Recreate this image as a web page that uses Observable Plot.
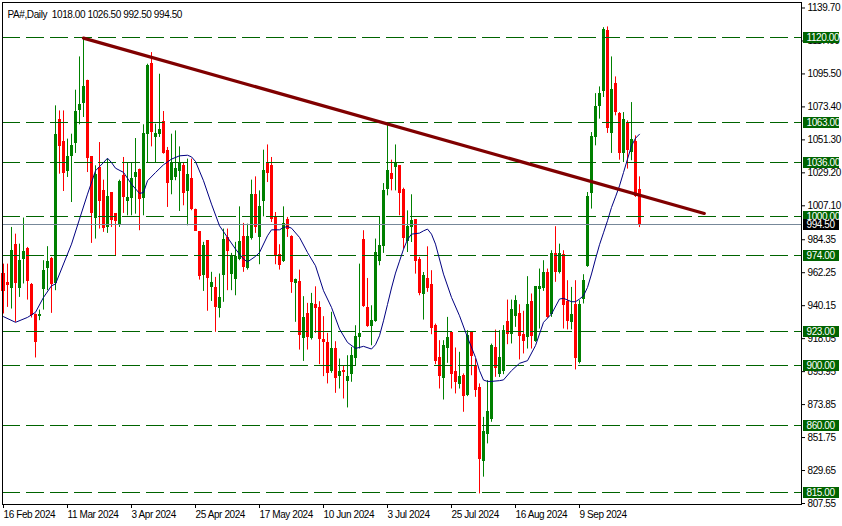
<!DOCTYPE html>
<html><head><meta charset="utf-8">
<script src="https://cdn.jsdelivr.net/npm/d3@7"></script>
<script src="https://cdn.jsdelivr.net/npm/@observablehq/plot@0.6"></script>
<style>
html,body{margin:0;padding:0;background:#fff;}
#chart{width:842px;height:526px;overflow:hidden;}
svg{display:block;}
</style></head><body><div id="chart"></div>
<script>
const title = "PA#,Daily\u00a0 1018.00 1026.50 992.50 994.50";
const open = [961.4,955.5,952.0,981.0,952.0,971.6,978.1,954.2,934.1,933.5,951.1,965.1,971.4,955.1,1064.7,1050.0,1030.1,1040.8,1049.5,1071.4,
1076.3,1090.8,1039.9,998.9,1032.3,1017.2,993.0,1015.8,1001.8,994.8,1026.8,1010.0,1012.0,1026.1,1031.2,1012.2,1055.1,1102.4,1053.5,1055.5,
1063.4,1043.9,1024.3,1026.5,1030.1,1033.9,1016.7,1025.4,1004.4,989.3,960.9,983.7,952.4,952.0,938.6,960.9,985.5,961.4,958.0,971.4,
985.9,965.3,985.4,1014.2,986.3,1010.4,1035.7,1033.9,999.7,974.3,969.8,997.7,986.3,955.1,956.2,918.2,934.5,918.5,940.8,938.6,
917.1,915.1,896.6,911.1,893.2,896.6,889.5,894.4,905.0,918.9,984.3,938.8,926.3,930.1,969.8,980.3,1018.2,1028.7,1033.4,1033.9,
1017.6,983.2,992.6,997.5,970.7,947.9,958.0,954.2,926.7,905.1,891.7,911.5,922.0,895.5,887.7,893.2,880.5,922.7,899.9,884.8,
836.3,854.2,864.2,911.8,894.4,896.2,929.0,921.2,933.5,934.6,920.7,919.0,942.8,916.7,951.1,952.0,962.3,934.6,974.8,962.5,
974.1,942.8,929.0,940.6,902.2,944.6,966.9,1016.0,1053.5,1074.1,1084.1,1124.3,1056.2,1089.0,1068.9,1042.8,1062.9,1043.3,1050.2,1018.0];
const high = [968.0,968.0,992.6,988.1,981.4,998.9,979.2,955.0,934.6,937.2,970.3,979.7,972.5,1074.1,1070.7,1070.7,1051.8,1055.1,1084.6,1106.9,
1119.5,1091.3,1039.9,1033.9,1049.5,1024.3,1038.4,1015.8,1001.8,1024.3,1039.5,1035.5,1035.5,1052.2,1031.7,1061.4,1102.0,1109.8,1061.8,1095.3,
1070.3,1046.2,1055.1,1057.3,1046.6,1036.1,1038.4,1038.4,1004.9,989.3,982.6,983.7,962.5,959.1,961.4,991.5,991.5,975.2,982.6,1006.4,
995.3,994.8,1024.3,1026.5,1017.1,1044.4,1047.9,1039.5,1002.6,981.0,1006.4,999.3,987.0,958.0,964.0,946.2,941.7,948.4,952.8,942.8,
932.8,921.6,935.7,916.0,904.4,899.9,906.6,912.2,926.7,968.0,990.4,958.4,940.1,984.8,999.3,1022.0,1062.0,1037.7,1047.9,1033.9,
1018.9,1003.7,1014.5,997.5,972.5,962.4,979.6,963.6,927.8,916.7,916.7,932.3,922.0,911.8,908.9,894.4,923.4,922.7,904.4,887.7,
865.3,889.9,914.4,923.8,923.4,926.8,943.9,943.9,946.8,940.8,936.4,959.6,948.0,952.4,964.7,970.3,964.7,977.0,993.1,981.4,
977.0,956.9,952.4,956.9,943.5,960.9,1016.0,1056.2,1082.3,1086.8,1126.5,1127.0,1106.9,1093.5,1069.6,1069.6,1064.0,1076.3,1054.0,1026.5];
const low = [934.6,939.0,937.9,929.0,945.7,954.7,943.9,931.9,905.1,930.1,937.2,950.2,935.0,950.2,1028.3,1016.7,1026.1,1009.3,1042.2,1061.4,
1066.3,1029.4,981.9,984.8,991.5,989.3,988.6,992.6,973.6,992.6,1002.0,1000.4,1000.4,1001.5,990.4,1000.4,1036.1,1046.6,1035.5,1052.9,
1041.7,1006.0,1014.5,1023.9,1003.3,1007.1,993.7,1003.8,990.0,957.3,949.7,936.4,943.0,922.3,931.9,942.4,950.2,950.2,946.8,970.3,
962.5,964.0,984.1,988.6,967.6,999.7,1022.7,995.9,967.6,964.0,969.1,985.9,948.4,929.0,910.4,902.8,910.4,917.1,921.6,900.6,
892.6,887.7,894.8,881.4,884.3,877.6,871.6,888.8,900.0,911.1,939.0,925.6,913.3,929.0,966.9,975.2,1013.8,1017.1,1017.1,1000.4,
978.1,975.8,982.5,961.3,946.8,930.5,949.1,920.7,900.6,884.3,876.9,901.5,884.3,881.0,884.3,868.7,879.2,893.2,878.7,814.0,
825.2,847.5,862.0,892.1,892.0,893.9,914.0,914.5,925.6,903.8,907.8,911.1,911.1,915.6,924.5,949.7,931.7,932.3,955.8,961.4,
924.5,923.9,923.9,897.1,901.1,941.3,965.8,1004.9,1047.3,1065.2,1079.7,1055.6,1042.2,1067.4,1037.7,1036.1,1031.7,1037.3,1012.7,992.5];
const close = [949.7,954.2,977.0,955.1,969.8,975.9,956.4,934.1,915.6,934.1,963.1,969.6,954.7,1054.7,1047.3,1029.4,1039.5,1047.3,1070.3,1074.7,
1086.8,1039.0,1002.0,1027.9,1010.5,992.2,1012.7,997.5,997.1,1023.2,1013.1,1012.0,1025.4,1028.8,1011.6,1055.1,1100.9,1056.9,1055.3,1057.6,
1042.8,1022.1,1035.5,1032.1,1035.5,1015.6,1027.9,1004.9,990.4,959.8,980.3,958.7,955.1,939.0,945.3,984.1,977.0,973.0,973.0,982.6,
965.8,986.3,1014.5,993.0,1006.6,1030.5,1029.4,998.2,974.3,967.6,994.8,991.5,955.7,957.3,920.7,931.9,919.4,941.2,938.6,917.8,
915.6,894.8,911.1,891.7,895.9,895.5,892.6,906.6,919.0,921.2,940.1,926.7,930.1,975.6,980.3,1017.1,1030.1,1024.9,1035.7,1016.0,
985.2,992.6,997.0,969.8,948.4,959.8,952.0,924.9,902.8,893.2,913.1,918.2,894.4,888.8,892.1,879.4,920.0,906.6,883.6,837.4,
855.3,868.7,913.3,898.2,904.9,923.4,921.2,937.5,943.5,920.1,916.7,940.8,920.1,952.4,952.4,961.8,932.3,974.8,962.5,974.8,
940.8,930.1,934.1,905.1,940.6,956.9,1012.7,1053.3,1073.4,1081.9,1125.0,1059.1,1084.8,1070.3,1042.2,1064.5,1044.4,1051.3,1013.8,994.5];

// moving average (bar index, value)
const maIndex = [0,3,6,8,10,12,13,15,17,19,21,23,25,26,27,28,30,32,34,35,36,38,40,42,44,46,47,48,50,52,54,56,58,60,61,63,64,66,67,69,70,71,72,74,76,78,80,82,84,86,88,90,92,93,94,95,96,97,98,99,100,101,102,104,105,106,107,108,110,112,114,116,118,119,120,121,122,124,125,127,129,131,133,135,137,139,140,142,143,144,145,146,147,148,149,150,151,152,153,154,155,156,157,158,159];
const maValue = [932.8,929.0,932.3,935.7,945.7,953.5,954.7,968.1,981.4,998.2,1014.9,1030.6,1036.1,1039.0,1036.1,1032.3,1029.5,1021.6,1015.4,1016.0,1023.9,1029.4,1034.6,1038.4,1040.6,1041.0,1039.9,1036.8,1023.9,1008.2,993.7,985.9,978.1,971.4,969.5,973.2,975.8,987.0,991.0,991.0,992.6,993.2,992.1,985.9,975.8,966.9,950.2,939.0,924.5,915.5,911.5,912.9,911.1,914.0,920.0,930.0,941.0,952.0,962.0,970.0,978.0,984.5,988.1,988.8,990.3,991.5,988.1,981.4,961.3,945.7,933.4,918.9,905.5,896.6,890.3,889.4,889.4,889.9,890.4,896.6,901.5,903.3,913.4,929.0,934.6,944.6,945.1,942.8,942.8,944.6,946.8,952.4,961.4,971.4,981.0,989.0,997.1,1006.0,1013.1,1020.5,1029.4,1038.4,1047.3,1052.4,1055.1];

const levels = [1120.00,1063.00,1036.00,1000.00,974.00,923.00,900.00,860.00,815.00];
const lastPrice = 994.50;
const priceTicks = [1139.70,1117.60,1095.50,1073.40,1051.30,1029.20,1007.10,984.35,962.25,940.15,918.05,895.95,873.85,851.75,829.65,807.55];
const dateTickIndex = [0,16,32,48,64,80,96,112,128,144];
const dateTickLabels = ["16 Feb 2024","11 Mar 2024","3 Apr 2024","25 Apr 2024","17 May 2024","10 Jun 2024","3 Jul 2024","25 Jul 2024","16 Aug 2024","9 Sep 2024"];
const trendIndex = [20, 175.2];
const trendValue = [1119.5, 1002.0];

const UP = "#008000", DOWN = "#ff0000";
const bars = open.map((o, i) => ({i, o, h: high[i], l: low[i], c: close[i], col: close[i] >= o ? UP : DOWN}));
const ma = maIndex.map((i, k) => ({i, v: maValue[k]}));
const trend = trendIndex.map((i, k) => ({i, v: trendValue[k]}));
const dateLabel = new Map(dateTickIndex.map((i, k) => [i, dateTickLabels[k]]));
const XMAX = 199.5;
const FONT = '"Liberation Sans", Arial, sans-serif';

const chart = Plot.plot({
  width: 842, height: 526,
  marginTop: 2, marginBottom: 22, marginLeft: 2, marginRight: 41,
  x: {domain: [-0.25, XMAX]},
  y: {domain: [806.88, 1143.38]},
  style: {fontFamily: FONT, fontSize: "10px", letterSpacing: "-0.4px", background: "white", color: "black", overflow: "visible"},
  marks: [
    Plot.ruleX(bars, {x: "i", y1: "l", y2: "h", stroke: "col", strokeWidth: 1}),
    Plot.rect(bars, {x1: d => d.i - 0.375, x2: d => d.i + 0.375, y1: "o", y2: "c", fill: "col",
      insetTop: -0.5, insetBottom: -0.5, shapeRendering: "crispEdges"}),
    Plot.ruleY(levels, {y: d => d, stroke: "#006400", strokeWidth: 1, strokeDasharray: "18,6", shapeRendering: "crispEdges"}),
    Plot.ruleY([lastPrice], {y: d => d, stroke: "#778899", strokeWidth: 1, shapeRendering: "crispEdges"}),
    Plot.line(ma, {x: "i", y: "v", stroke: "#000080", strokeWidth: 1}),
    Plot.line(trend, {x: "i", y: "v", stroke: "#800000", strokeWidth: 3.2}),
    Plot.frame({stroke: "black", strokeWidth: 1, shapeRendering: "crispEdges"}),
    Plot.axisY(priceTicks, {anchor: "right", tickSize: 3, tickPadding: 3, label: null,
      tickFormat: d => d.toFixed(2), fontSize: 10}),
    Plot.axisX(dateTickIndex, {anchor: "bottom", tickSize: 4, tickPadding: 2, label: null,
      tickFormat: d => dateLabel.get(d), textAnchor: "start", fontSize: 10}),
    Plot.rect(levels, {x1: XMAX, x2: XMAX, y1: d => d, y2: d => d, fill: "#006400",
      insetLeft: 2, insetRight: -38, insetTop: -5, insetBottom: -6, shapeRendering: "crispEdges"}),
    Plot.rect([lastPrice], {x1: XMAX, x2: XMAX, y1: d => d, y2: d => d, fill: "black",
      insetLeft: 2, insetRight: -38, insetTop: -5, insetBottom: -6, shapeRendering: "crispEdges"}),
    Plot.text(levels.concat([lastPrice]), {x: XMAX, y: d => d, text: d => d.toFixed(2), fill: "white",
      textAnchor: "start", dx: 5, dy: 0.5, fontSize: 10}),
    Plot.text([title], {frameAnchor: "top-left", dx: 5, dy: 8, textAnchor: "start", lineAnchor: "top", fontSize: 10, fill: "black"})
  ]
});
document.getElementById("chart").appendChild(chart);
</script></body></html>
